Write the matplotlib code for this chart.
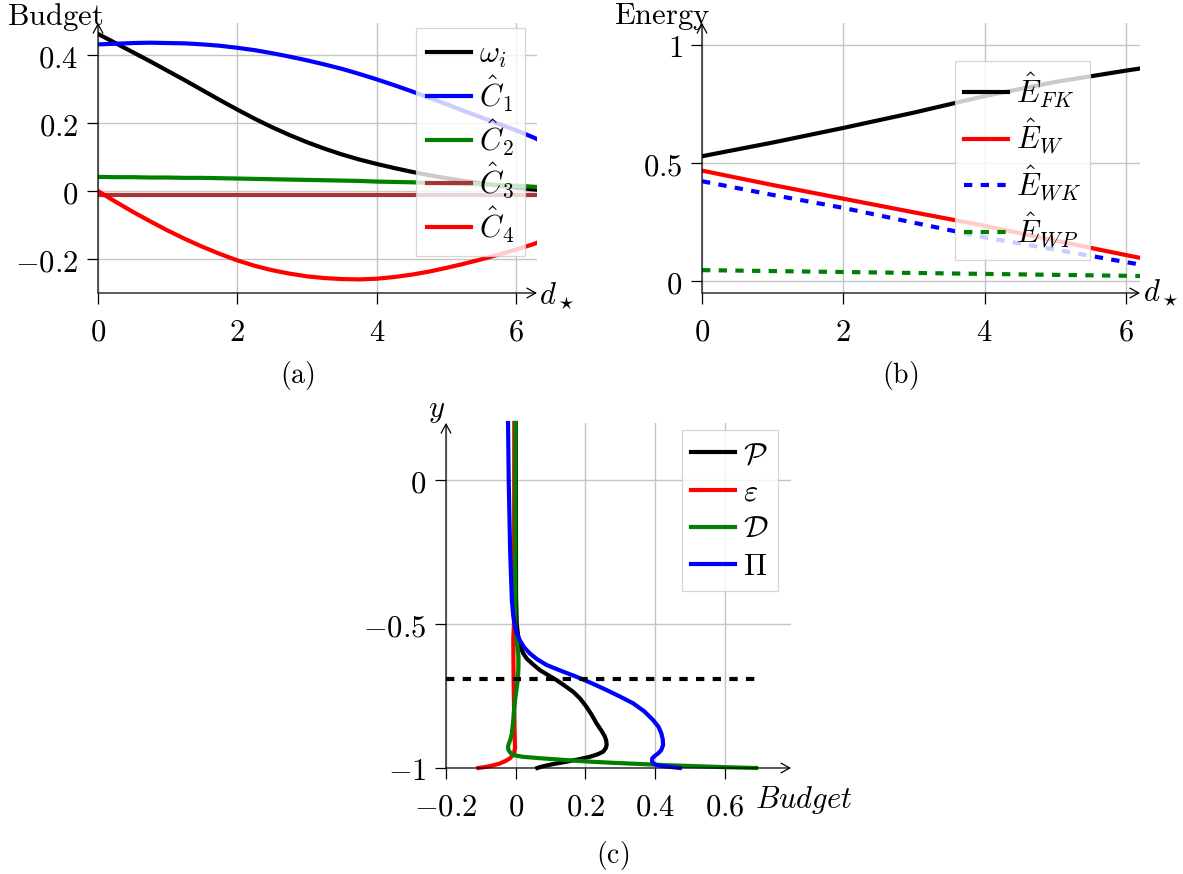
import matplotlib
matplotlib.use("Agg")
import matplotlib.pyplot as plt

plt.rcParams['mathtext.fontset'] = 'cm'
plt.rcParams['font.family'] = ['DejaVu Serif']

W, H = 1183, 874

# ---------------- data (a) ----------------
xa = [0, 0.25, 0.5, 0.75, 1, 1.25, 1.5, 1.75, 2, 2.25, 2.5, 2.75, 3, 3.25, 3.5,
      3.75, 4, 4.25, 4.5, 4.75, 5, 5.25, 5.5, 5.75, 6, 6.25, 6.3]
omega_i = [0.463, 0.436, 0.409, 0.382, 0.354, 0.326, 0.297, 0.268, 0.240, 0.213, 0.188, 0.165,
           0.144, 0.125, 0.108, 0.093, 0.080, 0.068, 0.057, 0.047, 0.038, 0.030, 0.023, 0.016,
           0.010, 0.005, 0.004]
C1 = [0.432, 0.434, 0.436, 0.437, 0.436, 0.435, 0.432, 0.428, 0.422, 0.415, 0.406, 0.396,
      0.385, 0.373, 0.360, 0.345, 0.329, 0.312, 0.294, 0.275, 0.256, 0.236, 0.217, 0.198,
      0.179, 0.158, 0.153]
C2 = [0.042, 0.041, 0.041, 0.040, 0.040, 0.039, 0.039, 0.038, 0.037, 0.036, 0.035, 0.034,
      0.033, 0.032, 0.031, 0.030, 0.028, 0.027, 0.026, 0.024, 0.023, 0.021, 0.020, 0.018,
      0.016, 0.013, 0.012]
C3 = [-0.012] * 27
C4 = [0.0, -0.031, -0.061, -0.089, -0.116, -0.141, -0.164, -0.185, -0.204, -0.220, -0.233,
      -0.243, -0.251, -0.256, -0.259, -0.260, -0.258, -0.253, -0.246, -0.237, -0.226, -0.214,
      -0.201, -0.187, -0.172, -0.156, -0.152]
labels_a = [r'$\omega_i$', r'$\hat{C}_1$', r'$\hat{C}_2$', r'$\hat{C}_3$', r'$\hat{C}_4$']
colors_a = ['black', '#0000ff', '#008000', '#aa3333', '#ff0000']
xticks_a = [0, 2, 4, 6]
yticks_a = [-0.2, 0, 0.2, 0.4]
xticklabels_a = ['$0$', '$2$', '$4$', '$6$']
yticklabels_a = ['$-0.2$', '$0$', '$0.2$', '$0.4$']

# ---------------- data (b) ----------------
xb = [0, 1, 2, 3, 4, 5, 6, 6.2]
E_FK = [0.53, 0.588, 0.65, 0.715, 0.785, 0.845, 0.893, 0.902]
E_W = [0.469, 0.408, 0.35, 0.292, 0.235, 0.172, 0.111, 0.099]
E_WK = [0.424, 0.366, 0.311, 0.248, 0.186, 0.134, 0.081, 0.071]
E_WP = [0.047, 0.043, 0.039, 0.035, 0.031, 0.027, 0.023, 0.022]
labels_b = [r'$\hat{E}_{FK}$', r'$\hat{E}_{W}$', r'$\hat{E}_{WK}$', r'$\hat{E}_{WP}$']
colors_b = ['black', '#ff0000', '#0000ff', '#008000']
styles_b = ['-', '-', '--', '--']
xticks_b = [0, 2, 4, 6]
yticks_b = [0, 0.5, 1]
xticklabels_b = ['$0$', '$2$', '$4$', '$6$']
yticklabels_b = ['$0$', '$0.5$', '$1$']

# ---------------- data (c) ----------------
P_y = [0.2, -0.4, -0.5, -0.54, -0.579, -0.6, -0.62, -0.64, -0.66, -0.677, -0.694, -0.715,
       -0.735, -0.76, -0.787, -0.815, -0.845, -0.87, -0.891, -0.906, -0.92, -0.932, -0.943,
       -0.952, -0.961, -0.97, -0.978, -0.987, -0.995, -1.0]
P_x = [0.0, 0.001, 0.003, 0.007, 0.014, 0.021, 0.032, 0.05, 0.07, 0.093, 0.117, 0.142,
       0.165, 0.186, 0.203, 0.218, 0.232, 0.246, 0.256, 0.26, 0.261, 0.258, 0.251,
       0.236, 0.213, 0.18, 0.146, 0.105, 0.075, 0.062]
eps_y = [0.2, -0.5, -0.55, -0.7, -0.85, -0.93, -0.95, -0.966, -0.976, -0.984, -0.991, -0.996, -1.0]
eps_x = [-0.004, -0.005, -0.007, -0.006, -0.004, -0.002, -0.005, -0.016, -0.03, -0.045, -0.065, -0.085, -0.107]
D_y = [0.2, -0.498, -0.53, -0.556, -0.613, -0.65, -0.694, -0.73, -0.764, -0.8, -0.833, -0.88,
       -0.9, -0.92, -0.93, -0.937, -0.946, -0.955, -0.961, -0.966, -0.972, -0.978, -0.982,
       -0.986, -0.99, -0.993, -0.997, -1.0]
D_x = [-0.001, -0.001, 0.001, 0.003, 0.008, 0.008, 0.006, 0.002, -0.002, -0.005, -0.007, -0.011,
       -0.015, -0.021, -0.022, -0.021, -0.016, -0.007, 0.02, 0.07, 0.14, 0.213, 0.28,
       0.356, 0.43, 0.5, 0.6, 0.69]
Pi_y = [0.2, 0.0, -0.243, -0.417, -0.47, -0.509, -0.535, -0.556, -0.58, -0.602, -0.622, -0.642,
        -0.662, -0.683, -0.705, -0.729, -0.752, -0.775, -0.803, -0.833, -0.857, -0.88, -0.9,
        -0.92, -0.937, -0.949, -0.958, -0.966, -0.975, -0.984, -0.99, -0.994, -0.997, -1.0]
Pi_x = [-0.022, -0.020, -0.016, -0.011, -0.007, -0.002, 0.004, 0.012, 0.024, 0.041, 0.062, 0.089,
        0.13, 0.175, 0.218, 0.261, 0.30, 0.337, 0.369, 0.394, 0.41, 0.418, 0.422,
        0.423, 0.418, 0.409, 0.399, 0.392, 0.391, 0.395, 0.405, 0.425, 0.45, 0.471]
labels_c = [r'$\mathcal{P}$', r'$\varepsilon$', r'$\mathcal{D}$', r'$\Pi$']
colors_c = ['black', '#ff0000', '#008000', '#0000ff']
hline_x = [-0.2, 0.69]
hline_y = [-0.69, -0.69]
xticks_c = [-0.2, 0, 0.2, 0.4, 0.6]
yticks_c = [-1, -0.5, 0]
xticklabels_c = ['$-0.2$', '$0$', '$0.2$', '$0.4$', '$0.6$']
yticklabels_c = ['$-1$', '$-0.5$', '$0$']

FS = 22
CAP = 20
LW = 3.0
GRID = '#c4c4c4'


def rect(l, t, r, b):
    return [l / W, 1 - b / H, (r - l) / W, (b - t) / H]


def style_axes(ax, xlim, ylim, xt, xtl, yt, ytl):
    ax.set_xlim(*xlim)
    ax.set_ylim(*ylim)
    ax.set_xticks(xt)
    ax.set_xticklabels(xtl)
    ax.set_yticks(yt)
    ax.set_yticklabels(ytl)
    for s in ax.spines.values():
        s.set_visible(False)
    ax.grid(True, color=GRID, lw=1.0)
    ax.set_axisbelow(True)
    ax.tick_params(direction='out', length=8, width=0.9, labelsize=FS, pad=6)
    ax.tick_params(axis='x', pad=9)
    kw = dict(arrowstyle='->,head_length=0.45,head_width=0.25', lw=0.9,
              color='black', mutation_scale=14, shrinkA=0, shrinkB=0)
    ax.annotate('', xy=(1, 0), xytext=(0, 0), xycoords='axes fraction',
                textcoords='axes fraction', arrowprops=kw, annotation_clip=False)
    ax.annotate('', xy=(0, 1), xytext=(0, 0), xycoords='axes fraction',
                textcoords='axes fraction', arrowprops=kw, annotation_clip=False)


def legend(ax, l, t, **kw):
    lg = ax.legend(loc='upper left', bbox_to_anchor=(l / W, 1 - t / H),
                   bbox_transform=fig.transFigure, borderaxespad=0,
                   fontsize=FS, frameon=True, fancybox=False, framealpha=0.8,
                   edgecolor='#cccccc', handlelength=1.45, handletextpad=0.25,
                   **kw)
    lg.get_frame().set_linewidth(0.9)
    return lg


fig = plt.figure(figsize=(W / 100, H / 100), dpi=100)

# ---------------- panel (a) ----------------
axa = fig.add_axes(rect(98, 23, 537, 293))
for ys, lab, c in zip([omega_i, C1, C2, C3, C4], labels_a, colors_a):
    axa.plot(xa, ys, color=c, lw=LW, label=lab)
style_axes(axa, (0, 6.3), (-0.3, 0.495), xticks_a, xticklabels_a, yticks_a, yticklabels_a)
legend(axa, 416, 28, labelspacing=0.1, borderpad=0.35)
fig.text(55 / W, 1 - 17 / H, r'$\mathrm{Budget}$', fontsize=FS, ha='center', va='center')
fig.text(539 / W, 1 - 296 / H, r'$d_\star$', fontsize=FS, ha='left', va='center')
fig.text(297 / W, 1 - 375 / H, r'$\mathrm{(a)}$', fontsize=CAP, ha='center', va='center')

# ---------------- panel (b) ----------------
axb = fig.add_axes(rect(702, 23, 1140, 293))
for ys, lab, c, ls in zip([E_FK, E_W, E_WK, E_WP], labels_b, colors_b, styles_b):
    if ls == '--':
        axb.plot(xb, ys, color=c, lw=LW, label=lab, dashes=(2, 2))
    else:
        axb.plot(xb, ys, color=c, lw=LW, label=lab)
style_axes(axb, (0, 6.2), (-0.05, 1.095), xticks_b, xticklabels_b, yticks_b, yticklabels_b)
legend(axb, 955, 61, labelspacing=0.22, borderpad=0.3)
fig.text(662 / W, 1 - 17 / H, r'$\mathrm{Energy}$', fontsize=FS, ha='center', va='center')
fig.text(1143 / W, 1 - 293 / H, r'$d_\star$', fontsize=FS, ha='left', va='center')
fig.text(900 / W, 1 - 375 / H, r'$\mathrm{(b)}$', fontsize=CAP, ha='center', va='center')

# ---------------- panel (c) ----------------
axc = fig.add_axes(rect(446, 423, 791, 768))
for xs, ys, lab, c in zip([P_x, eps_x, D_x, Pi_x], [P_y, eps_y, D_y, Pi_y], labels_c, colors_c):
    axc.plot(xs, ys, color=c, lw=LW, label=lab, clip_on=False)
axc.plot(hline_x, hline_y, color='black', lw=LW, dashes=(2, 2))
style_axes(axc, (-0.2, 0.79), (-1, 0.2), xticks_c, xticklabels_c, yticks_c, yticklabels_c)
legend(axc, 682, 430, labelspacing=0.2, borderpad=0.3)
fig.text(437 / W, 1 - 410 / H, r'$y$', fontsize=FS, ha='center', va='center')
fig.text(755 / W, 1 - 800 / H, r'$Budget$', fontsize=FS, ha='left', va='center')
fig.text(613 / W, 1 - 855 / H, r'$\mathrm{(c)}$', fontsize=CAP, ha='center', va='center')

fig.savefig('out.png', dpi=100)
